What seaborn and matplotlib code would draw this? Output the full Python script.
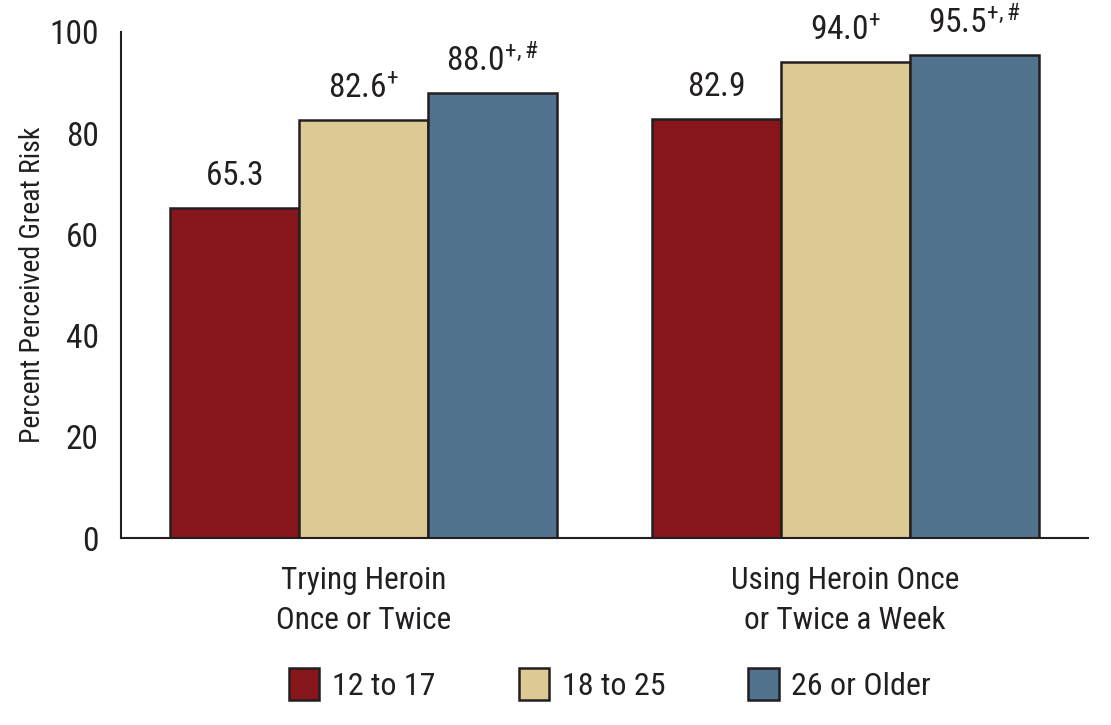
import matplotlib
matplotlib.use("Agg")
import matplotlib.pyplot as plt
import seaborn as sns
import pandas as pd
from matplotlib import font_manager

categories = ["Trying Heroin\nOnce or Twice", "Using Heroin Once\nor Twice a Week"]
groups = ["12 to 17", "18 to 25", "26 or Older"]
values = {
    "12 to 17": [65.3, 82.9],
    "18 to 25": [82.6, 94.0],
    "26 or Older": [88.0, 95.5],
}
labels = {
    "12 to 17": ["65.3", "82.9"],
    "18 to 25": ["82.6^{+}", "94.0^{+}"],
    "26 or Older": ["88.0^{+,\\#}", "95.5^{+,\\#}"],
}
colors = ["#86161B", "#DDC994", "#52738D"]
yticks = [0, 20, 40, 60, 80, 100]

sns.set_style("white")
names = {f.name for f in font_manager.fontManager.ttflist}
fam = "DejaVu Sans"
for cand in ["Roboto Condensed", "Archivo Narrow", "Liberation Sans Narrow", "Barlow Condensed"]:
    if cand in names:
        fam = cand
        break
plt.rcParams["font.family"] = [fam, "DejaVu Sans"]
plt.rcParams["mathtext.fontset"] = "custom"
plt.rcParams["mathtext.rm"] = fam
plt.rcParams["mathtext.it"] = fam
plt.rcParams["mathtext.bf"] = fam

rows = []
for g in groups:
    for c, v in zip(categories, values[g]):
        rows.append({"cat": c, "group": g, "val": v})
df = pd.DataFrame(rows)

fig = plt.figure(figsize=(11.11, 7.25), dpi=100)
ax = fig.add_axes([0.1089, 0.2579, 0.8700, 0.698])
sns.barplot(data=df, x="cat", y="val", hue="group", hue_order=groups, order=categories,
            palette=colors, width=0.803, edgecolor="#231F20", linewidth=1.8,
            saturation=1, ax=ax, legend=True)

txtcol = "#231F20"
for cont, g in zip(ax.containers, groups):
    for bar, lab in zip(cont, labels[g]):
        ax.text(bar.get_x() + bar.get_width() / 2, bar.get_height() + 3.0,
                "$\\mathregular{" + lab + "}$", ha="center", va="bottom",
                fontsize=24, color=txtcol)

ax.set_xlim(-0.503, 1.503)
ax.set_ylim(0, 100)
ax.set_yticks(yticks)
ax.set_yticklabels([str(t) for t in yticks], fontsize=24, color=txtcol)
ax.set_xticks(range(len(categories)))
ax.set_xticklabels(categories, fontsize=22.5, color=txtcol, linespacing=1.5)
ax.tick_params(axis="y", length=0, pad=16)
ax.tick_params(axis="x", length=0, pad=20)
ax.set_xlabel("")
ax.set_ylabel("Percent Perceived Great Risk", fontsize=20, color=txtcol, labelpad=2)
for s in ["top", "right"]:
    ax.spines[s].set_visible(False)
for s in ["left", "bottom"]:
    ax.spines[s].set_color("#231F20")
    ax.spines[s].set_linewidth(1.5)

handles, labs = ax.get_legend_handles_labels()
ax.legend(handles, labs, loc="upper center", bbox_to_anchor=(0.506, -0.2), ncol=3,
          frameon=False, fontsize=23, handlelength=0.95, handleheight=1.15,
          columnspacing=2.6, handletextpad=0.4, labelcolor=txtcol)

fig.savefig("out.png", dpi=100)
